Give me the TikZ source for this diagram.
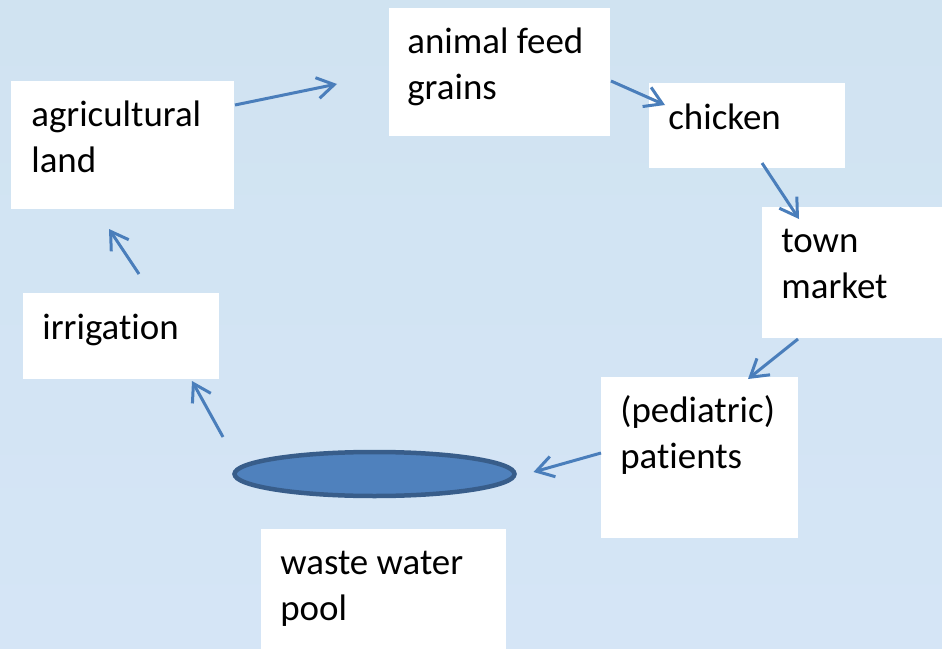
\documentclass[tikz,border=0pt]{standalone}
\usepackage{fontspec}
\setmainfont{Carlito}[Ligatures=NoCommon]
\usepackage{tikz}
\usetikzlibrary{arrows.meta,shapes.geometric}
\definecolor{flowblue}{HTML}{4A7EBB}
\definecolor{pondfill}{HTML}{4F81BD}
\definecolor{pondedge}{HTML}{385D8A}
\tikzstyle{whitebox} = [fill=white, draw=none, rectangle, inner sep=0pt, outer sep=0pt, anchor=north west]
\tikzstyle{boxtext} = [anchor=north west, inner sep=0pt, align=left, font=\fontsize{21pt}{26.65pt}\selectfont]
\tikzstyle{flow} = [draw=flowblue, line width=0.6mm, -{Straight Barb[length=3.4mm,width=4.2mm]}]
\tikzstyle{pond} = [ellipse, fill=pondfill, draw=pondedge, line width=0.9mm, minimum width=56mm, minimum height=8.8mm, inner sep=0pt]

\begin{document}
\begin{tikzpicture}[x=0.2mm, y=-0.2mm]
\useasboundingbox (0,0) rectangle (942,649);
\shade[top color={rgb,255:red,208;green,227;blue,241}, middle color={rgb,255:red,222;green,238;blue,245}, bottom color={rgb,255:red,213;green,229;blue,246}] (0,0) rectangle (942,649);

% boxes
\node [whitebox, minimum width=44.6mm, minimum height=25.6mm] (agri) at (11,81) {};
\node [whitebox, minimum width=44.2mm, minimum height=25.6mm] (feed) at (389,8) {};
\node [whitebox, minimum width=39.2mm, minimum height=17mm] (chicken) at (649,83) {};
\node [whitebox, minimum width=36mm, minimum height=26.2mm] (town) at (762,207) {};
\node [whitebox, minimum width=39.4mm, minimum height=32.2mm] (patients) at (601,377) {};
\node [whitebox, minimum width=49mm, minimum height=24mm] (pool) at (261,529) {};
\node [whitebox, minimum width=39.2mm, minimum height=17.2mm] (irrig) at (23,293) {};
\node [pond] (pond) at (374.5,474) {};

% texts
\node [boxtext] (agri-txt) at ([shift={(20,12)}]agri.north west) {\strut agricultural\\land};
\node [boxtext] (feed-txt) at ([shift={(18,12)}]feed.north west) {\strut animal feed\\grains};
\node [boxtext] (chicken-txt) at ([shift={(19,13)}]chicken.north west) {\strut chicken};
\node [boxtext] (town-txt) at ([shift={(19,12)}]town.north west) {\strut town\\market};
\node [boxtext] (patients-txt) at ([shift={(19,12)}]patients.north west) {\strut (pediatric)\\patients};
\node [boxtext] (pool-txt) at ([shift={(19,12)}]pool.north west) {\strut waste water\\pool};
\node [boxtext] (irrig-txt) at ([shift={(19,13)}]irrig.north west) {\strut irrigation};

% cycle
\draw [flow] ([shift={(1,24)}]agri.north east) -- ([shift={(-52,76)}]feed.north west);
\draw [flow] ([shift={(1,73)}]feed.north east) -- ([shift={(16,22)}]chicken.north west);
\draw [flow] ([shift={(113,-5)}]chicken.south west) -- ([shift={(37,12)}]town.north west);
\draw [flow] ([shift={(36,1)}]town.south west) -- ([shift={(147,2)}]patients.north west);
\draw [flow] ([shift={(0,76)}]patients.north west) -- ([shift={(159,-2)}]pond.center);
\draw [flow] ([shift={(-151.5,-37)}]pond.center) -- ([shift={(169,2)}]irrig.south west);
\draw [flow] ([shift={(116,-19)}]irrig.north west) -- ([shift={(98,20)}]agri.south west);
\end{tikzpicture}
\end{document}
